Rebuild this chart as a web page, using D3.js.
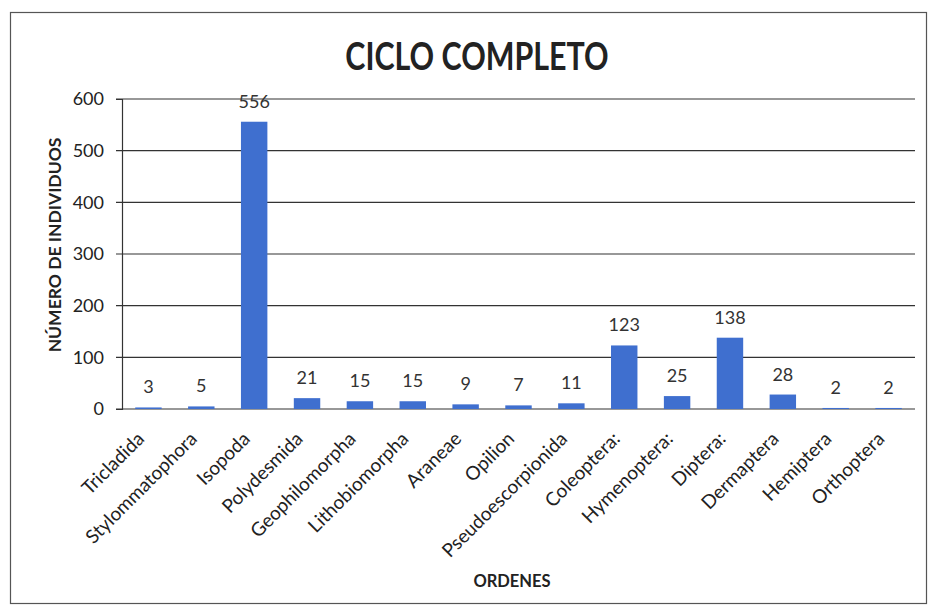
<!DOCTYPE html>
<html><head><meta charset="utf-8">
<script src="https://cdn.jsdelivr.net/npm/d3@7"></script>
<style>body{margin:0;background:#fff}svg{display:block}</style>
</head><body>
<svg id="c" width="932" height="614"></svg>
<script>
const categories = ["Tricladida","Stylommatophora","Isopoda","Polydesmida","Geophilomorpha","Lithobiomorpha","Araneae","Opilion","Pseudoescorpionida","Coleoptera:","Hymenoptera:","Diptera:","Dermaptera","Hemiptera","Orthoptera"];
const values = [3,5,556,21,15,15,9,7,11,123,25,138,28,2,2];
const yTicks = [0,100,200,300,400,500,600];
const titleText = "CICLO COMPLETO";
const yTitle = "NÚMERO DE INDIVIDUOS";
const xTitle = "ORDENES";

const svg = d3.select("#c");
const font = "Lato, 'Open Sans', sans-serif";
const pL = 122, pR = 915, pT = 99, pB = 409;

svg.append("rect").attr("x",10.5).attr("y",12.5).attr("width",916).attr("height",591)
  .attr("fill","#fff").attr("stroke","#555").attr("stroke-width",1.2);

const x = d3.scaleBand().domain(categories).range([pL,pR]).paddingInner(0.5).paddingOuter(0.25);
const y = d3.scaleLinear().domain([0,600]).range([pB,pT]);

// gridlines
svg.append("g").selectAll("line").data(yTicks).join("line")
  .attr("x1",pL-6).attr("x2",pR).attr("y1",d=>y(d)).attr("y2",d=>y(d))
  .attr("stroke","#333").attr("stroke-width",1.2);

// y axis
const ya = svg.append("g").attr("transform",`translate(${pL},0)`)
  .call(d3.axisLeft(y).tickValues(yTicks).tickSize(6).tickPadding(12));
ya.select(".domain").attr("stroke","#333").attr("stroke-width",1.2);
ya.selectAll(".tick line").remove();
ya.selectAll("text").attr("font-family",font).attr("font-size",18).attr("fill","#222");

// bars
svg.append("g").selectAll("rect").data(values).join("rect")
  .attr("x",(d,i)=>x(categories[i])).attr("width",x.bandwidth())
  .attr("y",d=>y(d)).attr("height",d=>pB-y(d))
  .attr("fill","#3f6fcf");

// value labels
svg.append("g").selectAll("text").data(values).join("text")
  .attr("x",(d,i)=>x(categories[i])+x.bandwidth()/2).attr("y",d=>y(d)-14)
  .attr("text-anchor","middle").attr("font-family",font).attr("font-size",18).attr("fill","#333")
  .text(d=>d);

// x axis
const xa = svg.append("g").attr("transform",`translate(0,${pB})`)
  .call(d3.axisBottom(x).tickSize(0).tickPadding(0));
xa.select(".domain").remove();
xa.selectAll("text").attr("font-family",font).attr("font-size",19).attr("fill","#222")
  .attr("text-anchor","end").attr("dy",0)
  .attr("transform","translate(-3,31) rotate(-45)")
  .attr("y",0).attr("x",0);

// titles
svg.append("text").attr("transform","translate(477,70) scale(0.8,1)").attr("text-anchor","middle")
  .attr("font-family",font).attr("font-weight","bold").attr("font-size",38).attr("fill","#222").text(titleText);
svg.append("text").attr("transform","translate(61,245) rotate(-90)").attr("text-anchor","middle")
  .attr("font-family",font).attr("font-weight","bold").attr("font-size",17.5).attr("fill","#222").text(yTitle);
svg.append("text").attr("x",512).attr("y",587).attr("text-anchor","middle")
  .attr("font-family",font).attr("font-weight","bold").attr("font-size",16.5).attr("fill","#222").text(xTitle);
</script>
</body></html>
